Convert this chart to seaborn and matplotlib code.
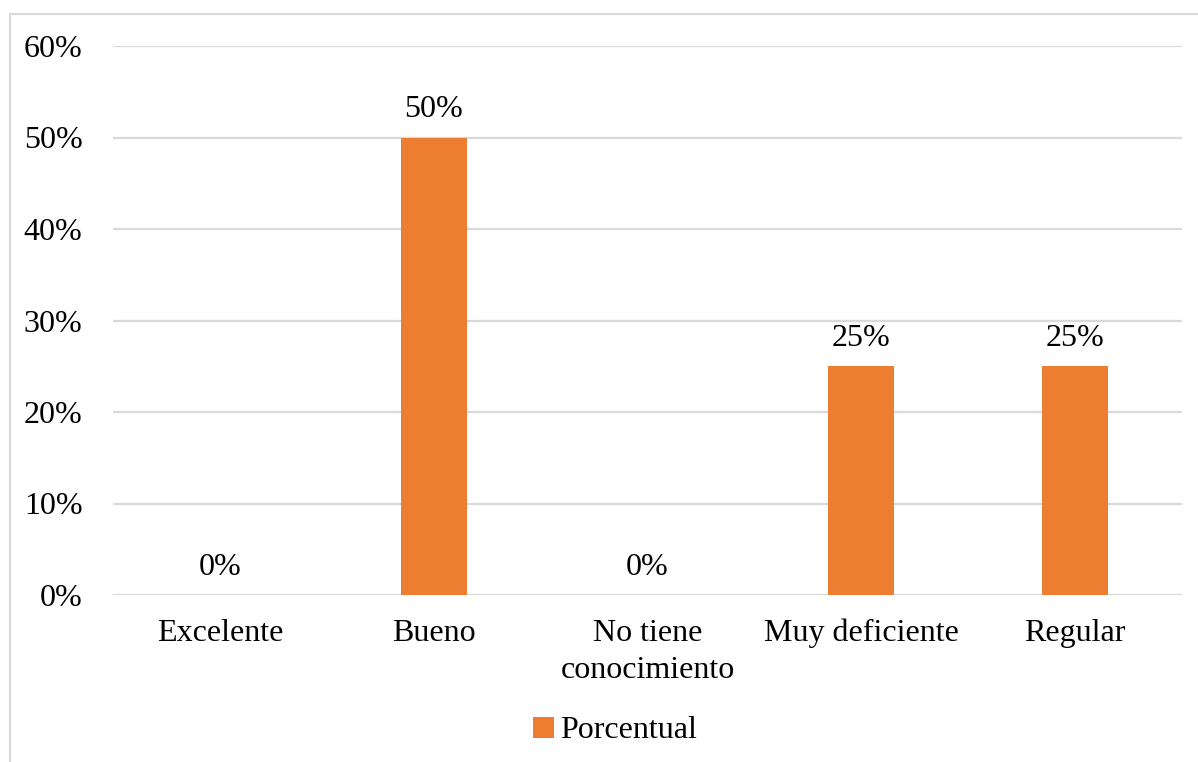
import matplotlib
matplotlib.use("Agg")
import matplotlib.pyplot as plt
import seaborn as sns
import pandas as pd
from matplotlib.patches import Rectangle, Patch

categories = ["Excelente", "Bueno", "No tiene\nconocimiento", "Muy deficiente", "Regular"]
values = [0, 50, 0, 25, 25]
value_labels = ["0%", "50%", "0%", "25%", "25%"]
y_ticks = [0, 10, 20, 30, 40, 50, 60]
y_tick_labels = ["0%", "10%", "20%", "30%", "40%", "50%", "60%"]
series_name = "Porcentual"

sns.set_theme(style="white")
plt.rcParams['font.family'] = ['Liberation Serif', 'DejaVu Serif']
plt.rcParams['text.color'] = 'black'
plt.rcParams['xtick.color'] = 'black'
plt.rcParams['ytick.color'] = 'black'

FS = 23
W, H = 1198, 762
fig = plt.figure(figsize=(W / 100, H / 100), dpi=100)
ax = fig.add_axes([113 / W, 1 - 595 / H, (1182 - 113) / W, (595 - 46) / H])

df = pd.DataFrame({"cat": categories, "val": values, "serie": series_name})
sns.barplot(data=df, x="cat", y="val", hue="serie", palette=["#ED7D31"],
            width=0.31, ax=ax, legend=False, saturation=1, linewidth=0)

ax.set_ylim(0, 60)
ax.set_xlim(-0.5, 4.5)
ax.set_yticks(y_ticks)
ax.set_yticklabels(y_tick_labels, fontsize=FS)
ax.tick_params(axis='x', labelsize=FS, length=0, pad=17, labelcolor='black')
ax.tick_params(axis='y', length=0, pad=22, labelcolor='black')
for t in ax.get_xticklabels():
    t.set_linespacing(1.4)
ax.set_xlabel("")
ax.set_ylabel("")
for s in ax.spines.values():
    s.set_visible(False)
ax.yaxis.grid(True, color="#D9D9D9", linewidth=1.6)
ax.set_axisbelow(True)

for i, (v, lab) in enumerate(zip(values, value_labels)):
    ax.annotate(lab, (i, v), xytext=(0, 20), textcoords="offset points",
                ha="center", va="center", fontsize=FS, color="black")

fig.legend(handles=[Patch(facecolor="#ED7D31", edgecolor="none", label=series_name)],
           loc="center", bbox_to_anchor=(615 / W, 1 - 731 / H), frameon=False,
           fontsize=FS, handlelength=0.65, handleheight=0.65, handletextpad=0.2,
           labelcolor="black")

fig.patches.append(Rectangle((9.5 / W, -0.05), 1.2, 1 - 14 / H + 0.05,
                             transform=fig.transFigure, fill=False,
                             edgecolor="#D9D9D9", linewidth=1.5))

fig.savefig("out.png", dpi=100)
